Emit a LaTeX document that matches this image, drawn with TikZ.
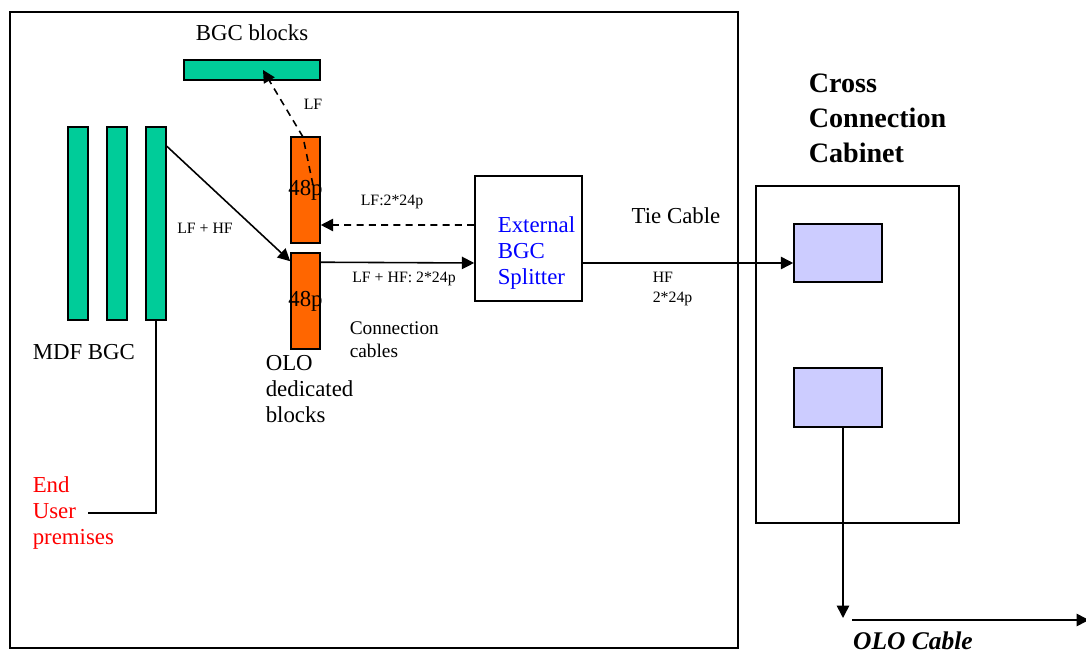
\documentclass[tikz,border=0pt]{standalone}
\usepackage{fontspec}
\setmainfont{Liberation Serif}
\usetikzlibrary{positioning}
\usetikzlibrary{arrows.meta}

\definecolor{bgcgreen}{RGB}{0,204,153}
\definecolor{oloorange}{RGB}{255,102,0}
\definecolor{ccblue}{RGB}{204,204,255}

\begin{document}
\begin{tikzpicture}[x=0.02cm,y=-0.02cm,line width=0.9pt,
        bgc/.style={draw,fill=bgcgreen,inner sep=0,minimum width=0.4cm},
        olo/.style={draw,fill=oloorange,inner sep=0,minimum width=0.58cm},
        ccbox/.style={draw,fill=ccblue,inner sep=0,minimum width=1.76cm},
        enclosure/.style={draw,inner sep=0},
        txt/.style={inner sep=0,align=left,font=\fontsize{13}{15}\selectfont},
        lbl/.style={inner sep=0,align=left,font=\fontsize{9}{11}\selectfont},
        feed/.style={-{Triangle[length=7pt,width=7pt]}},
        lf/.style={feed,dash pattern=on 4pt off 3pt}]
        \path[use as bounding box] (0,0) rectangle (1086,659);
        % frames
        \node[enclosure,minimum width=14.56cm,minimum height=12.72cm] (site) at (374,330) {};
        \node[enclosure,minimum width=4.06cm,minimum height=6.74cm] (ccc) at (857.5,354.5) {};
        % blocks
        \node[bgc,minimum width=2.72cm,minimum height=0.4cm] (blk) at (252,70) {};
        \foreach \i/\x in {1/78,2/117,3/156}
            \node[bgc,minimum height=3.86cm] (m\i) at (\x,223.5) {};
        \node[olo,minimum height=2.12cm,label={[txt]center:48p}] (o1) at (305.5,190) {};
        \node[olo,minimum height=1.92cm,label={[txt]center:48p}] (o2) at (305.5,301) {};
        \node[enclosure,minimum width=2.14cm,minimum height=2.5cm] (sp) at (528.5,238.5) {};
        \node[ccbox,minimum height=1.16cm] (cb1) at (838,253) {};
        \node[ccbox,minimum height=1.18cm] (cb2) at (838,397.5) {};
        % texts
        \node[txt] (blkl) at (252,33) {BGC blocks};
        \node[txt,text=blue,anchor=west] (spl) at (497,253) {External\\BGC\\Splitter};
        \node[txt,anchor=west,font=\bfseries\fontsize{16}{20}\selectfont] (cccl) at (808,118) {Cross\\Connection\\Cabinet};
        \node[txt,anchor=west] (mdf) at (32,352) {MDF BGC};
        \node[txt,anchor=west] (olol) at (265,389) {OLO\\dedicated\\blocks};
        \node[txt,anchor=west,text=red] (eu) at (32,513) {End\\User\\premises};
        \node[txt,anchor=west,font=\fontsize{11}{13}\selectfont] (conn) at (349,340) {Connection\\cables};
        \node[txt] (tie) at (676,216) {Tie Cable};
        \node[lbl] (lfhf) at (205,228) {LF + HF};
        \node[lbl] (lfup) at (313,104) {LF};
        \node[lbl] (lfback) at (392,202) {LF:2*24p};
        \node[lbl] (lfhfout) at (404,279) {LF + HF: 2*24p};
        \node[lbl,anchor=west] (hf) at (652,289) {HF\\2*24p};
        \node[txt,font=\bfseries\itshape\fontsize{14.5}{16}\selectfont] (olocab) at (913,641) {OLO Cable};
        % cables
        \coordinate (lfa) at (313,185);
        \coordinate (lfb) at (303,137);
        \coordinate (euend) at (88,513);
        \coordinate (oloin) at (843,618);
        \coordinate (olos) at (852,620);
        \coordinate (oloe) at (1089,620);
        \draw[feed] ([yshift=-0.4cm]m3.north east) -- ([yshift=-0.18cm]o2.north west);
        \draw[feed] ([yshift=-0.2cm]o2.north east) -- ([yshift=-0.49cm]sp.west);
        \draw[lf] ([yshift=0.27cm]sp.west) -- ([yshift=-0.7cm]o1.east);
        \draw[lf] (lfa) -- (lfb) -- ([xshift=0.22cm]blk.center);
        \draw[feed] ([yshift=-0.49cm]sp.east) -- ([yshift=-0.2cm]cb1.west);
        \draw[feed] ([xshift=0.1cm]cb2.south) -- (oloin);
        \draw[feed] (olos) -- (oloe);
        \draw (m3.south) |- (euend);
    \end{tikzpicture}
\end{document}
